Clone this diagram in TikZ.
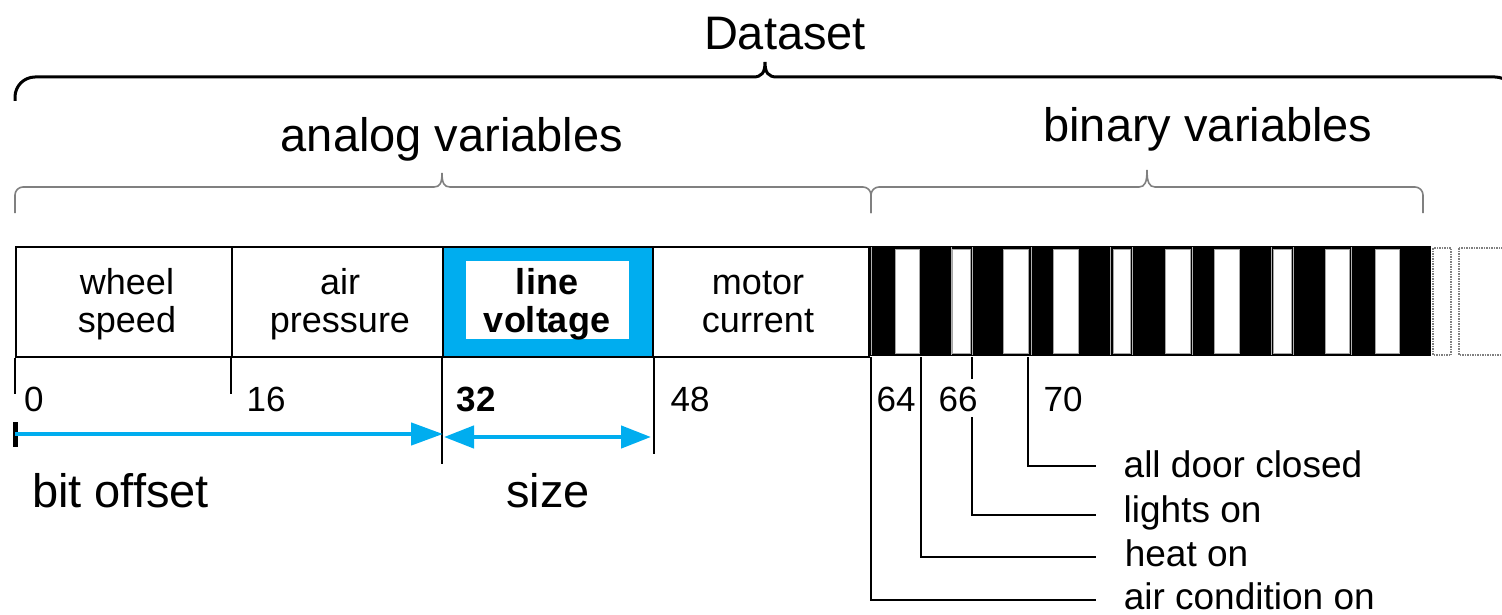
\documentclass[tikz,border=0pt]{standalone}
\usepackage{fontspec}
\setmainfont{Liberation Sans}
\usetikzlibrary{arrows.meta}
\definecolor{cyanb}{RGB}{0,173,239}
\newcommand\drawbrace[9]{% style, xL, xR, M, L, E, T, r, t
  \draw[#1] (#2,#6) -- (#2,{#5+#8})
    .. controls (#2,{#5+0.45*#8}) and ({#2+0.45*#8},#5) .. ({#2+#8},#5)
    -- ({#4-#9},#5)
    .. controls ({#4-0.25*#9},#5) and (#4,{#5-0.3*(#5-#7)}) .. (#4,#7)
    .. controls (#4,{#5-0.3*(#5-#7)}) and ({#4+0.25*#9},#5) .. ({#4+#9},#5)
    -- ({#3-#8},#5)
    .. controls ({#3-0.45*#8},#5) and (#3,{#5+0.45*#8}) .. (#3,{#5+#8})
    -- (#3,#6);}
\begin{document}
\begin{tikzpicture}[x=1pt,y=-1pt,
  big/.style={font=\fontsize{47}{56}\selectfont, inner sep=0pt, anchor=base},
  celltxt/.style={font=\fontsize{36}{40}\selectfont, inner sep=0pt, anchor=base},
  num/.style={font=\fontsize{35}{40}\selectfont, inner sep=0pt, anchor=base west},
  lbl/.style={font=\fontsize{37}{42}\selectfont, inner sep=0pt, anchor=base west},
  cellbox/.style={draw=black, line width=2pt, rectangle, inner sep=0pt, minimum height=110pt, anchor=north west},
  tickline/.style={draw=black, line width=2pt},
  lead/.style={draw=black, line width=2.5pt},
  bracebig/.style={draw=black, line width=3pt},
  bracesmall/.style={draw=gray, line width=1.6pt},
  barrow/.style={draw=cyanb, line width=4.5pt},
  zerobox/.style={fill=white, draw=gray!70, line width=1pt},
  divline/.style={draw=gray!60, line width=1pt},
  dotbox/.style={draw=gray, densely dotted, line width=1.5pt},
]
\useasboundingbox (0,0) rectangle (1502,615);
\clip (0,0) rectangle (1502,615);

% braces
\drawbrace{bracebig}{15}{1515}{765}{77}{101}{62}{20}{12}
\drawbrace{bracesmall}{15}{871}{442}{187}{213}{173}{8}{8}
\drawbrace{bracesmall}{871}{1423}{1147}{187}{213}{170}{8}{8}

% headings
\node[big] (ds) at (785,50) {Dataset};
\node[big] (av) at (452,152) {analog variables};
\node[big] (bv) at (1208,142) {binary variables};

% analog cells
\node[cellbox, minimum width=216pt] (ws) at (15,246) {};
\node[cellbox, minimum width=211pt] (ap) at (231,246) {};
\node[cellbox, minimum width=210pt, fill=cyanb] (lv) at (442,246) {};
\fill[white] (466,261) rectangle (629,339);
\node[cellbox, minimum width=216pt] (mc) at (652,246) {};

\node[celltxt] (ws1) at (127,294) {wheel};
\node[celltxt] (ws2) at (127,332) {speed};
\node[celltxt] (ap1) at (340,294) {air};
\node[celltxt] (ap2) at (340,332) {pressure};
\node[celltxt] (lv1) at (547,294) {\bfseries line};
\node[celltxt] (lv2) at (547,332) {\bfseries voltage};
\node[celltxt] (mc1) at (758,294) {motor};
\node[celltxt] (mc2) at (758,332) {current};

% binary bar
\fill[black] (869,246) rectangle (1431,356);
\foreach \a/\b in {895/919, 952/970, 1003/1028, 1053/1078, 1113/1130, 1165/1190, 1214/1239, 1273/1291, 1325/1349, 1375/1399}
  \draw[zerobox] (\a,249) rectangle (\b,353);
\foreach \x in {871,951,972,1031,1110,1132,1192,1271,1293,1351}
  \draw[divline] (\x,247) -- (\x,355);
\draw[dotbox] (1433,248) rectangle (1451,355);
\draw[dotbox] (1459,248) rectangle (1515,355);

% ticks under analog cells
\draw[tickline] (ws.south west) -- ++(0,36);
\draw[tickline] (ap.south west) -- ++(0,36);
\draw[tickline] (lv.south west) -- ++(0,106);
\draw[tickline] (lv.south east) -- ++(0,96);

% offsets
\node[num] (n0) at (24,411) {0};
\node[num] (n16) at (246.5,411) {16};
\node[num] (n32) at (456.5,411) {\bfseries 32};
\node[num] (n48) at (670.5,411) {48};
\node[num] (n64) at (876.5,411) {64};
\node[num] (n66) at (938.5,411) {66};
\node[num] (n70) at (1043.5,411) {70};

% arrows
\coordinate (a0) at (15,434);
\coordinate (a32) at (443,434);
\coordinate (s0) at (444,437);
\coordinate (s1) at (651,437);
\draw[line width=5pt] (15,422) -- (15,447);
\draw[barrow, -{Triangle[length=32pt,width=22pt]}] (a0) -- (a32);
\draw[barrow, {Triangle[length=30pt,width=22pt]}-{Triangle[length=30pt,width=22pt]}] (s0) -- (s1);

\node[big, anchor=base west] (bo) at (32,507) {bit offset};
\node[big] (sz) at (548,507) {size};

% binary leaders
\coordinate (b64) at (871,357);
\coordinate (b65) at (921,357);
\coordinate (b66) at (972,357);
\coordinate (g66a) at (972,379);
\coordinate (g66b) at (972,417);
\coordinate (b70) at (1028,357);
\coordinate (e64) at (1096,600);
\coordinate (e65) at (1096,557);
\coordinate (e66) at (1096,515);
\coordinate (e70) at (1096,466);
\draw[lead] (b64) |- (e64);
\draw[lead] (b65) |- (e65);
\draw[lead] (b66) -- (g66a);
\draw[lead] (g66b) |- (e66);
\draw[lead] (b70) |- (e70);

\node[lbl] (l70) at (1123.5,477) {all door closed};
\node[lbl] (l66) at (1123.5,522) {lights on};
\node[lbl] (l65) at (1124.6,566) {heat on};
\node[lbl] (l64) at (1123.6,609) {air condition on};
\end{tikzpicture}
\end{document}
